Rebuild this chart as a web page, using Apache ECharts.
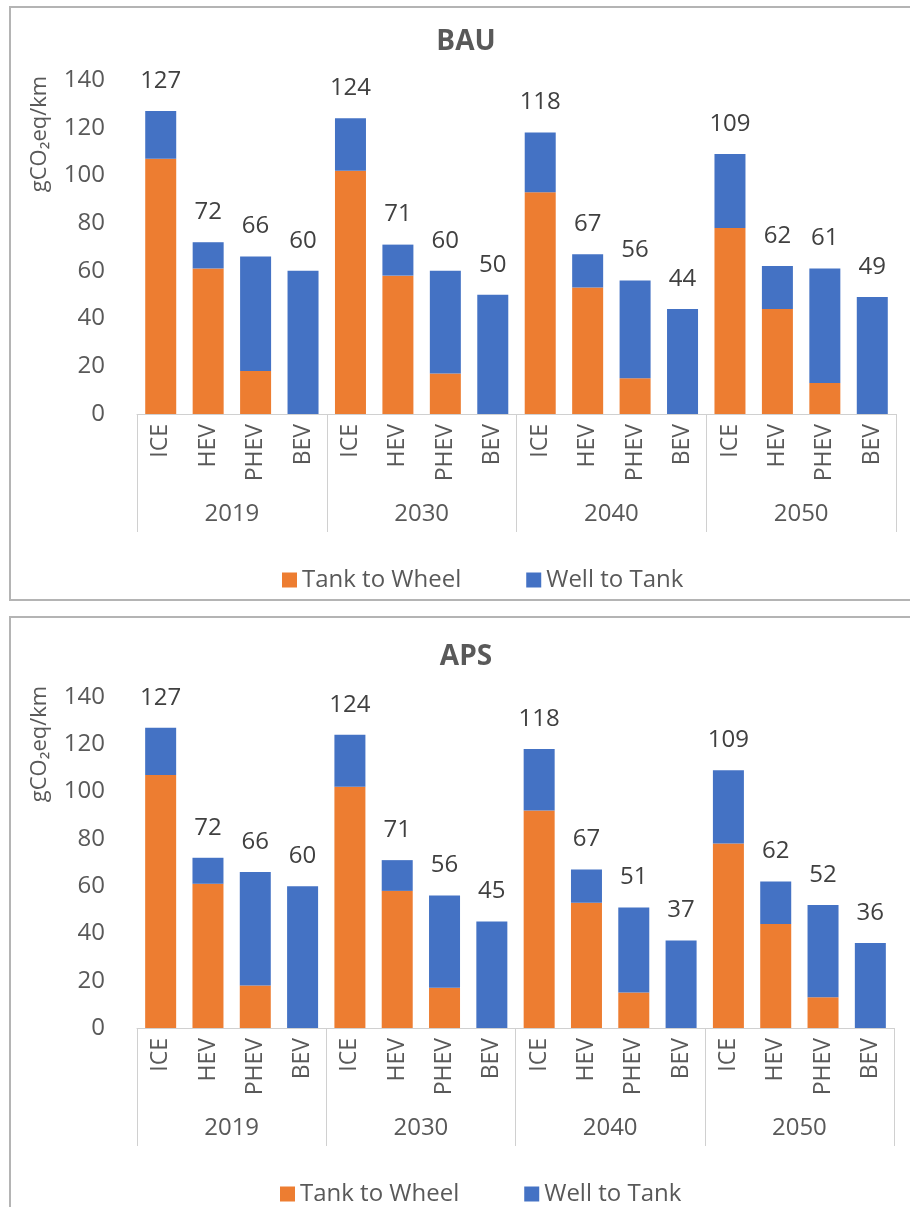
<!DOCTYPE html>
<html>
<head>
<meta charset="utf-8">
<script src="https://cdn.jsdelivr.net/npm/echarts@6/dist/echarts.min.js"></script>
<style>
  html, body { margin: 0; padding: 0; background: #ffffff; }
  #chart { width: 910px; height: 1207px; }
</style>
</head>
<body>
<div id="chart"></div>
<script>
// Vehicle types and years (two-level category axis)
const vehicles = ['ICE', 'HEV', 'PHEV', 'BEV'];
const years = ['2019', '2030', '2040', '2050'];
const yTicks = { min: 0, max: 140, step: 20 };

// BAU scenario, gCO2eq/km
const bauTankToWheel = [107, 61, 18, 0, 102, 58, 17, 0, 93, 53, 15, 0, 78, 44, 13, 0];
const bauWellToTank  = [20, 11, 48, 60, 22, 13, 43, 50, 25, 14, 41, 44, 31, 18, 48, 49];

// APS scenario, gCO2eq/km
const apsTankToWheel = [107, 61, 18, 0, 102, 58, 17, 0, 92, 53, 15, 0, 78, 44, 13, 0];
const apsWellToTank  = [20, 11, 48, 60, 22, 13, 39, 45, 26, 14, 36, 37, 31, 18, 39, 36];

const seriesNames = ['Tank to Wheel', 'Well to Tank'];
const panelTitles = ['BAU', 'APS'];
const axisName = 'gCO\u2082eq/km';

const FONT = '"Open Sans", "DejaVu Sans", sans-serif';
const TXT = '#595959';
const LBL = '#404040';
const LINE = '#d0d0d0';
const ORANGE = '#ED7D31';
const BLUE = '#4472C4';

const categories = [];
years.forEach(() => vehicles.forEach(v => categories.push(v)));

const panels = [
  { ttw: bauTankToWheel, wtt: bauWellToTank, top: 80, height: 334, right: 14,
    legendTop: 563, legendLeft: 277, titleY: 42, nameY: 134, frame: [10, 7, 920, 593] },
  { ttw: apsTankToWheel, wtt: apsWellToTank, top: 697, height: 331, right: 16,
    legendTop: 1177, legendLeft: 275, titleY: 657, nameY: 744, frame: [10, 617, 920, 640] }
];

const grid = [], xAxis = [], yAxis = [], series = [], legend = [], graphic = [];

panels.forEach((p, i) => {
  grid.push({ left: 137, right: p.right, top: p.top, height: p.height });

  // vehicle-type axis
  xAxis.push({
    type: 'category', gridIndex: i, data: categories, position: 'bottom',
    axisLine: { show: true, lineStyle: { color: LINE, width: 1 } },
    axisTick: { show: false },
    axisLabel: { rotate: 90, margin: 10, interval: 0, fontSize: 23, color: TXT, fontFamily: FONT }
  });
  // year axis with group separators
  xAxis.push({
    type: 'category', gridIndex: i, data: years, position: 'bottom',
    axisLine: { show: false },
    axisTick: { show: true, length: 118, interval: 0, lineStyle: { color: LINE, width: 1 } },
    axisLabel: { margin: 88, interval: 0, fontSize: 24, color: TXT, fontFamily: FONT }
  });

  yAxis.push({
    type: 'value', gridIndex: i, min: yTicks.min, max: yTicks.max, interval: yTicks.step,
    axisLine: { show: false }, axisTick: { show: false }, splitLine: { show: false },
    axisLabel: { margin: 32, fontSize: 24, color: TXT, fontFamily: FONT }
  });

  const stack = 'total' + i;
  series.push({
    name: seriesNames[0], type: 'bar', stack, xAxisIndex: i * 2, yAxisIndex: i,
    data: p.ttw, barWidth: 31, itemStyle: { color: ORANGE }
  });
  series.push({
    name: seriesNames[1], type: 'bar', stack, xAxisIndex: i * 2, yAxisIndex: i,
    data: p.wtt, barWidth: 31, itemStyle: { color: BLUE },
    label: {
      show: true, position: 'top', distance: 18,
      fontSize: 24, color: LBL, fontFamily: FONT,
      formatter: (d) => String(p.ttw[d.dataIndex] + p.wtt[d.dataIndex])
    }
  });

  legend.push({
    data: seriesNames, left: p.legendLeft, top: p.legendTop, icon: 'rect',
    itemWidth: 15, itemHeight: 15, itemGap: 65,
    textStyle: { fontSize: 24, color: TXT, fontFamily: FONT }
  });

  const f = p.frame;
  graphic.push({
    type: 'rect', shape: { x: f[0], y: f[1], width: f[2], height: f[3] },
    style: { fill: 'none', stroke: '#b4b4b4', lineWidth: 2 }, silent: true, z: -1
  });
  graphic.push({
    type: 'text', x: 466, y: p.titleY,
    style: { text: panelTitles[i], fontSize: 28, fontWeight: 'bold', fill: TXT,
             fontFamily: FONT, textAlign: 'center', textVerticalAlign: 'middle' }
  });
  graphic.push({
    type: 'text', x: 40, y: p.nameY, rotation: Math.PI / 2,
    style: { text: axisName, fontSize: 22, fill: TXT, fontFamily: FONT,
             textAlign: 'center', textVerticalAlign: 'middle' }
  });
});

const chart = echarts.init(document.getElementById('chart'), null, { renderer: 'canvas' });
chart.setOption({
  animation: false,
  backgroundColor: '#ffffff',
  grid, xAxis, yAxis, series, legend, graphic
});
</script>
</body>
</html>
